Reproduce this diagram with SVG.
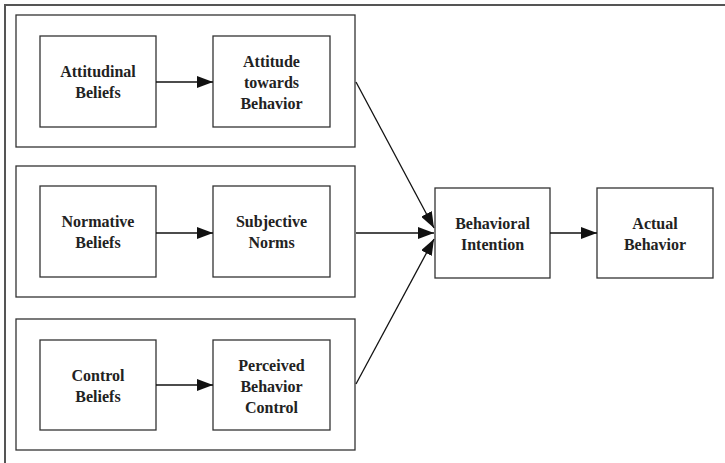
<svg xmlns="http://www.w3.org/2000/svg" width="725" height="463" viewBox="0 0 725 463">
  <style>
    .frame { fill: none; stroke: #555; stroke-width: 2; }
    .box { fill: #fff; stroke: #333; stroke-width: 1.3; }
    .group { fill: none; stroke: #333; stroke-width: 1.3; }
    .lbl { font-family: "Liberation Serif", "Times New Roman", serif; font-weight: bold; font-size: 16px; fill: #222; text-anchor: middle; }
    .edge { fill: none; stroke: #111; stroke-width: 1.3; marker-end: url(#head); }
  </style>
  <defs>
    <marker id="head" markerWidth="16" markerHeight="12" refX="16" refY="6" orient="auto" markerUnits="userSpaceOnUse">
      <path d="M0,0 L16,6 L0,12 Z" fill="#111"/>
    </marker>
  </defs>

  <!-- page frame: top and left rules only -->
  <path class="frame" d="M5,463 V5 H725"/>

  <!-- construct groups -->
  <g id="group-attitude"><rect class="group" x="16" y="15" width="339" height="132"/></g>
  <g id="group-norms"><rect class="group" x="16" y="166" width="339" height="131"/></g>
  <g id="group-control"><rect class="group" x="16" y="319" width="339" height="131"/></g>

  <g id="attitudinal-beliefs">
    <rect class="box" x="40" y="36" width="116" height="91"/>
    <text class="lbl" x="98" y="77">Attitudinal</text>
    <text class="lbl" x="98" y="98">Beliefs</text>
  </g>
  <g id="attitude-towards-behavior">
    <rect class="box" x="213" y="36" width="117" height="91"/>
    <text class="lbl" x="271.5" y="67">Attitude</text>
    <text class="lbl" x="271.5" y="88">towards</text>
    <text class="lbl" x="271.5" y="109">Behavior</text>
  </g>

  <g id="normative-beliefs">
    <rect class="box" x="40" y="186" width="116" height="91"/>
    <text class="lbl" x="98" y="227">Normative</text>
    <text class="lbl" x="98" y="248">Beliefs</text>
  </g>
  <g id="subjective-norms">
    <rect class="box" x="213" y="186" width="117" height="91"/>
    <text class="lbl" x="271.5" y="227">Subjective</text>
    <text class="lbl" x="271.5" y="248">Norms</text>
  </g>

  <g id="control-beliefs">
    <rect class="box" x="40" y="340" width="116" height="90"/>
    <text class="lbl" x="98" y="381">Control</text>
    <text class="lbl" x="98" y="402">Beliefs</text>
  </g>
  <g id="perceived-behavior-control">
    <rect class="box" x="213" y="340" width="117" height="90"/>
    <text class="lbl" x="271.5" y="371">Perceived</text>
    <text class="lbl" x="271.5" y="392">Behavior</text>
    <text class="lbl" x="271.5" y="413">Control</text>
  </g>

  <g id="behavioral-intention">
    <rect class="box" x="435" y="188" width="115" height="90"/>
    <text class="lbl" x="492.5" y="229">Behavioral</text>
    <text class="lbl" x="492.5" y="250">Intention</text>
  </g>
  <g id="actual-behavior">
    <rect class="box" x="597" y="188" width="116" height="90"/>
    <text class="lbl" x="655" y="229">Actual</text>
    <text class="lbl" x="655" y="250">Behavior</text>
  </g>

  <g id="connectors">
    <line class="edge" x1="156" y1="82" x2="213" y2="82"/>
    <line class="edge" x1="156" y1="233" x2="213" y2="233"/>
    <line class="edge" x1="156" y1="385" x2="213" y2="385"/>
    <line class="edge" x1="356" y1="82" x2="434" y2="228"/>
    <line class="edge" x1="356" y1="233" x2="434" y2="233"/>
    <line class="edge" x1="356" y1="384" x2="434" y2="239"/>
    <line class="edge" x1="550" y1="233" x2="597" y2="233"/>
  </g>
</svg>
